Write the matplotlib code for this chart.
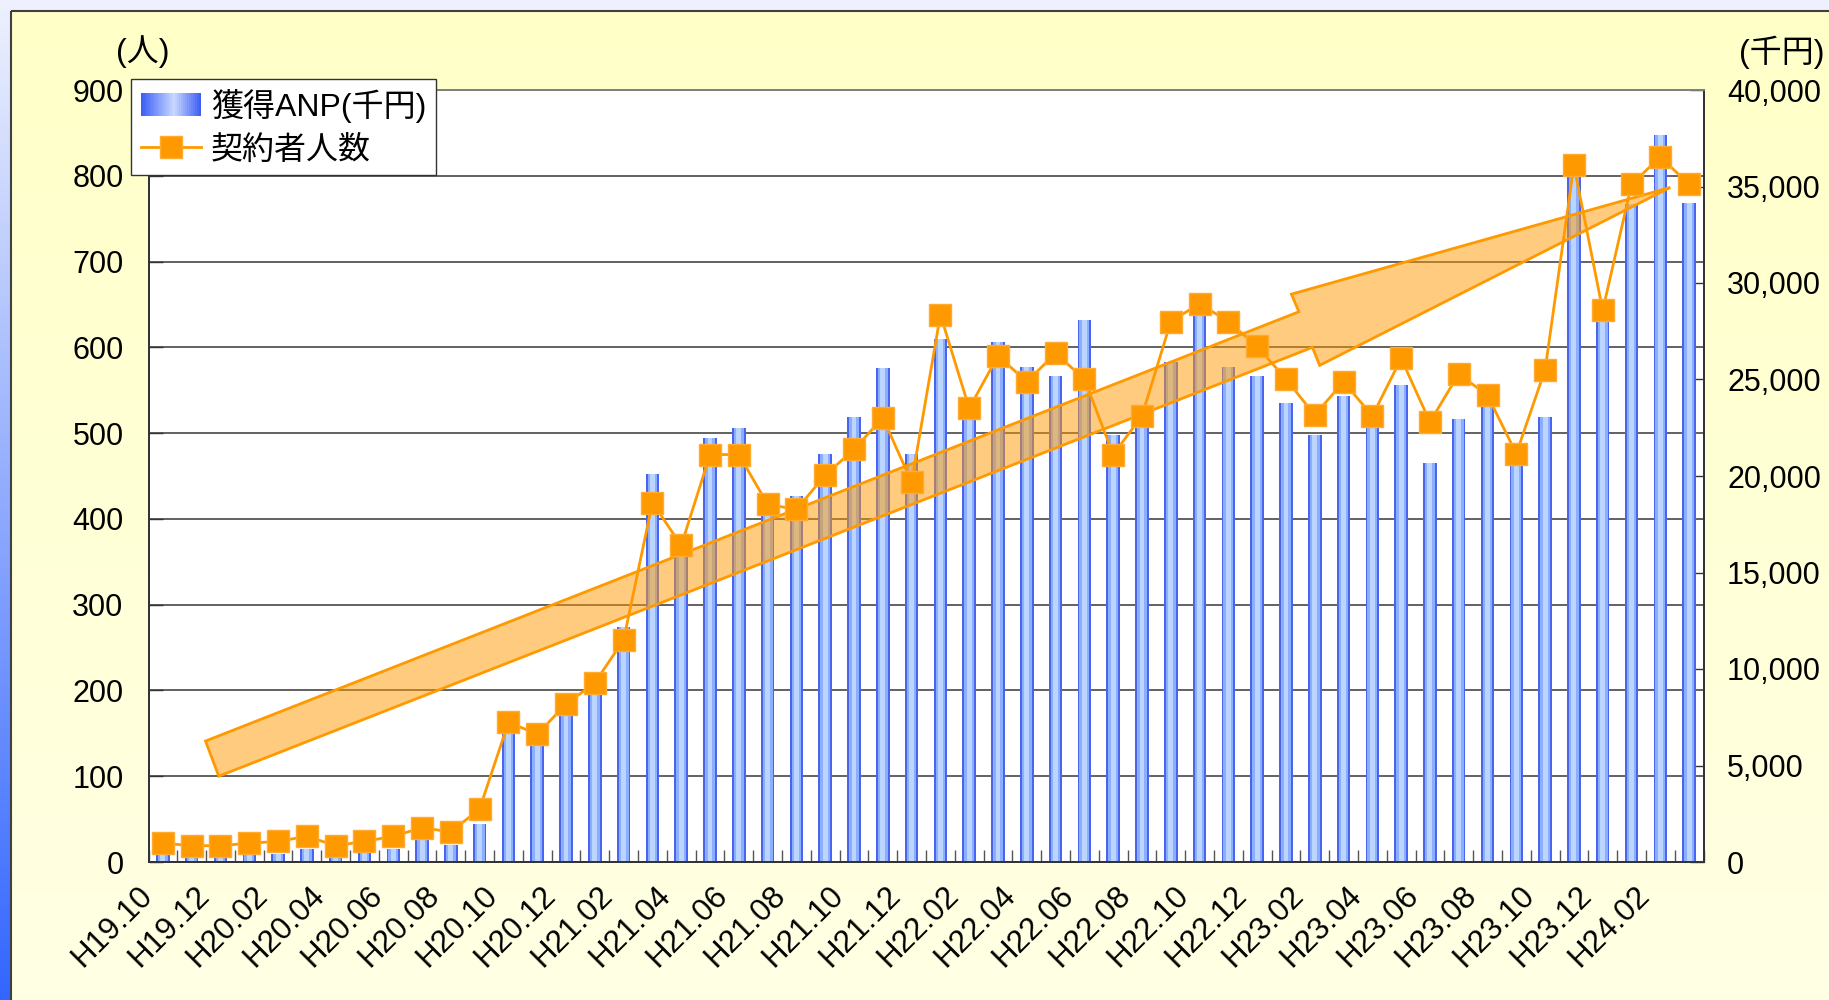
import numpy as np
import matplotlib
matplotlib.use("Agg")
import matplotlib.pyplot as plt
from matplotlib.patches import Rectangle, Polygon
from matplotlib.legend_handler import HandlerBase
from matplotlib.lines import Line2D
from matplotlib.colors import LinearSegmentedColormap
import matplotlib.transforms as mtransforms

plt.rcParams['font.family'] = ['Liberation Sans', 'Noto Sans CJK JP', 'DejaVu Sans']

# ---------------- data ----------------
months = ["H19.10", "H19.11", "H19.12",
          "H20.01", "H20.02", "H20.03", "H20.04", "H20.05", "H20.06",
          "H20.07", "H20.08", "H20.09", "H20.10", "H20.11", "H20.12",
          "H21.01", "H21.02", "H21.03", "H21.04", "H21.05", "H21.06",
          "H21.07", "H21.08", "H21.09", "H21.10", "H21.11", "H21.12",
          "H22.01", "H22.02", "H22.03", "H22.04", "H22.05", "H22.06",
          "H22.07", "H22.08", "H22.09", "H22.10", "H22.11", "H22.12",
          "H23.01", "H23.02", "H23.03", "H23.04", "H23.05", "H23.06",
          "H23.07", "H23.08", "H23.09", "H23.10", "H23.11", "H23.12",
          "H24.01", "H24.02", "H24.03"]

# 獲得ANP (千円) - right axis bars
anp = [500, 250, 250, 360, 420, 670, 250, 500, 670, 1220, 880, 1970,
       6720, 6110, 7620, 8700, 12160, 20100, 16200, 21950, 22470, 18300, 18980, 21140,
       23060, 25580, 21140, 27100, 23300, 26930, 25630, 25170, 28080, 22120, 22800, 25890,
       28500, 25630, 25170, 23780, 22120, 24160, 22700, 24710, 20670, 22950, 23700, 20800,
       23040, 35600, 28300, 34100, 37670, 34150]

# 契約者人数 - left axis line
people = [22, 19, 19, 22, 24, 30, 19, 24, 30, 40, 35, 62,
          163, 149, 184, 209, 259, 419, 369, 475, 475, 417, 411, 451,
          481, 518, 443, 638, 529, 590, 560, 593, 563, 475, 520, 630,
          651, 630, 601, 563, 521, 560, 520, 587, 513, 569, 544, 476,
          574, 812, 643, 790, 822, 790]

left_ticks = [0, 100, 200, 300, 400, 500, 600, 700, 800, 900]
right_ticks = [0, 5000, 10000, 15000, 20000, 25000, 30000, 35000, 40000]
tick_label_months = months[::2]

series_names = ["獲得ANP(千円)", "契約者人数"]
left_unit = "(人)"
right_unit = "(千円)"

# decorative trend arrow outline (category index, persons)
arrow_outline = [(1.48, 141), (39.45, 641.5), (39.19, 662), (52.35, 786.5),
                 (40.17, 579), (39.92, 600), (1.94, 100)]

# ---------------- figure ----------------
W, H = 1829, 1000
fig = plt.figure(figsize=(W / 100, H / 100), dpi=100, facecolor='#EEF1FD')

bg = fig.add_axes([0, 0, 1, 1], zorder=-10)
grad = np.linspace(0, 1, 256).reshape(-1, 1)
cm_left = LinearSegmentedColormap.from_list('l', ['#EEF1FD', '#3366FF'])
cm_yel = LinearSegmentedColormap.from_list('y', ['#FFFFC8', '#FFFFE4'])
bg.imshow(grad, cmap=cm_left, extent=(0, 11, H, 0), aspect='auto')
bg.imshow(grad, cmap=cm_yel, extent=(11, W, H, 11), aspect='auto')
bg.add_patch(Rectangle((11, 11), W, H, fill=False, edgecolor='#404040', lw=1.5))
bg.set_xlim(0, W)
bg.set_ylim(H, 0)
bg.axis('off')

ax = fig.add_axes([148.5 / W, 1 - 862 / H, (1703.5 - 148.5) / W, (862 - 90) / H])
ax.set_facecolor('white')
n = len(months)
x = np.arange(n)

ax2 = ax.twinx()

# bars (right axis scale) with pseudo-gradient
ax.bar(x, anp, width=0.47, color='#4A64F2', zorder=2)
ax.bar(x, anp, width=0.34, color='#8DADFF', zorder=2.1)
ax.bar(x, anp, width=0.17, color='#BAD6FF', zorder=2.2)
ax.set_ylim(0, right_ticks[-1])
ax.set_xlim(-0.5, n - 0.5)

# grid lines at the left-axis ticks
scale = right_ticks[-1] / left_ticks[-1]
ax.hlines(np.array(left_ticks[1:-1]) * scale, -0.5, n - 0.5, colors='#555555', lw=1.3, zorder=1)

ax.yaxis.tick_right()
ax.yaxis.set_label_position('right')
ax.set_yticks(right_ticks)
ax.set_yticklabels([f"{v:,}" for v in right_ticks])
ax.tick_params(axis='y', direction='in', length=10, width=1, colors='#333333',
               labelcolor='black', labelsize=22, pad=17)

ax.set_xticks(x[::2])
ax.set_xticklabels(tick_label_months, rotation=45, ha='right', va='top',
                   rotation_mode='anchor', fontsize=22.5)
ax.set_xticks(np.arange(-0.5, n), minor=True)
ax.tick_params(axis='x', which='major', length=0, pad=13)
ax.tick_params(axis='x', which='minor', direction='in', length=9, width=1, colors='#555555')
off = mtransforms.ScaledTranslation(-26 / 100, 0, fig.dpi_scale_trans)
for lab in ax.get_xticklabels():
    lab.set_transform(lab.get_transform() + off)

# line (left axis)
ax2.set_ylim(0, left_ticks[-1])
ax2.add_patch(Polygon(arrow_outline, closed=True, facecolor=(1.0, 0.6, 0.0, 0.5),
                      edgecolor='#FF9900', lw=2, zorder=2))
ax2.plot(x, people, color='#FF9900', lw=2, marker='s', ms=16, mfc='#FF9900',
         mec='#FFAA33', mew=1, zorder=3)
ax2.yaxis.tick_left()
ax2.yaxis.set_label_position('left')
ax2.set_yticks(left_ticks)
ax2.tick_params(axis='y', direction='in', length=10, width=1, colors='#333333',
                labelcolor='black', labelsize=22, pad=18)

for a in (ax, ax2):
    for s in ('left', 'right', 'bottom'):
        a.spines[s].set_color('#333333')
        a.spines[s].set_linewidth(1.3)
    a.spines['top'].set_color('#808080')
    a.spines['top'].set_linewidth(1.3)

# unit labels
fig.text(143 / W, 1 - 52 / H, left_unit, ha='center', va='center', fontsize=23)
fig.text(1782 / W, 1 - 52 / H, right_unit, ha='center', va='center', fontsize=23)


# legend with gradient patch
class GradPatch(Rectangle):
    pass


class GradHandler(HandlerBase):
    def create_artists(self, legend, orig_handle, xdescent, ydescent, width, height,
                       fontsize, trans):
        cmap = LinearSegmentedColormap.from_list(
            'g', [(0, '#3A5CF5'), (0.55, '#C8D8FF'), (1.0, '#3A5CF5')])
        nseg = 30
        arts = []
        for i in range(nseg):
            c = cmap((i + 0.5) / nseg)
            r = Rectangle((-xdescent + i * width / nseg, -ydescent), width / nseg * 1.05, height,
                          facecolor=c, edgecolor='none', transform=trans)
            arts.append(r)
        return arts


bar_handle = GradPatch((0, 0), 1, 1)
line_handle = Line2D([], [], color='#FF9900', lw=2, marker='s', ms=16, mfc='#FF9900',
                     mec='#FFAA33', mew=1)
leg = fig.legend([bar_handle, line_handle], series_names,
                 handler_map={GradPatch: GradHandler()},
                 loc='upper left', bbox_to_anchor=(131 / W, 1 - 79 / H),
                 fontsize=23, frameon=True, fancybox=False, edgecolor='#333333',
                 framealpha=1, borderaxespad=0, handlelength=1.9, handletextpad=0.3,
                 handleheight=0.75, labelspacing=0.4, borderpad=0.3)
leg.get_frame().set_linewidth(1.0)

fig.savefig('out.png', dpi=100, facecolor=fig.get_facecolor())
